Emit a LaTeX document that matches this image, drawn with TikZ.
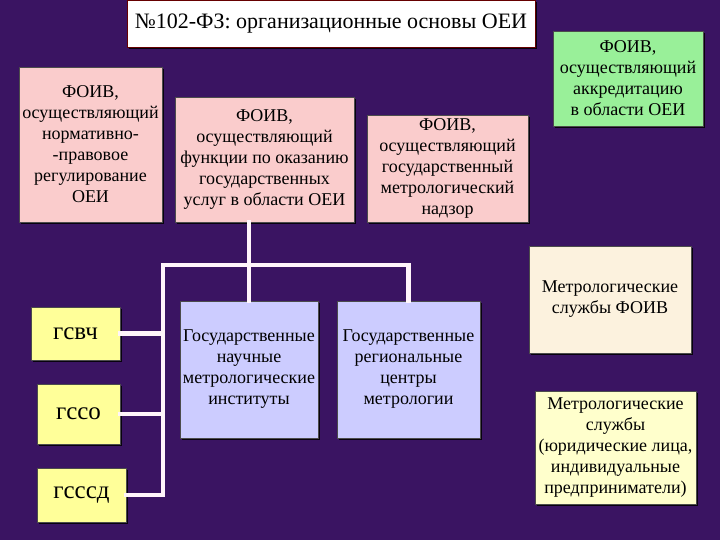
\documentclass[tikz,border=0pt]{standalone}
\usepackage{fontspec}
\setmainfont{Liberation Serif}
\usetikzlibrary{shadows}
\definecolor{bgpurple}{RGB}{58,20,98}
\definecolor{pinkbox}{RGB}{250,204,204}
\definecolor{greenbox}{RGB}{153,240,153}
\definecolor{creambox}{RGB}{252,242,222}
\definecolor{paleyellow}{RGB}{255,255,204}
\definecolor{yellowbox}{RGB}{255,255,153}
\definecolor{lavbox}{RGB}{204,204,255}
\definecolor{wire}{RGB}{255,245,250}
\begin{document}
\begin{tikzpicture}[x=1pt,y=-1pt,
  box/.style={draw=black!70,line width=0.6pt,align=center,inner sep=0.5pt,
    font=\fontsize{18}{21}\selectfont,
    drop shadow={shadow xshift=2pt,shadow yshift=-2pt,fill=black,opacity=.85}},
  sbox/.style={box,fill=yellowbox,font=\fontsize{25}{28}\selectfont},
  wirebus/.style={wire,line width=4.5pt,line cap=rect}]
  \fill[bgpurple] (0,0) rectangle (720,540);
  \useasboundingbox (0,0) rectangle (720,540);

  % title
  \node[box,fill=white,draw=red!40!black,minimum width=408pt,minimum height=47pt,
    font=\fontsize{22}{24}\selectfont] (title) at (331,23.5) {№102-ФЗ: организационные основы ОЕИ};

  % upper row
  \node[box,fill=pinkbox,minimum width=143pt,minimum height=155pt] (normreg) at (90.5,144.5)
    {ФОИВ,\\осуществляющий\\нормативно-\\-правовое\\регулирование\\ОЕИ};
  \node[box,fill=pinkbox,minimum width=179pt,minimum height=125pt] (gosusl) at (264.5,159.5)
    {ФОИВ,\\осуществляющий\\функции по оказанию\\государственных\\услуг в области ОЕИ};
  \node[box,fill=pinkbox,minimum width=161pt,minimum height=107pt] (nadzor) at (447.5,168.5)
    {ФОИВ,\\осуществляющий\\государственный\\метрологический\\надзор};
  \node[box,fill=greenbox,minimum width=150pt,minimum height=95pt] (akkred) at (628,78.5)
    {ФОИВ,\\осуществляющий\\аккредитацию\\в области ОЕИ};

  % right column
  \node[box,fill=creambox,minimum width=162pt,minimum height=107pt] (msfoiv) at (610,299.5)
    {Метрологические\\службы ФОИВ};
  \node[box,fill=paleyellow,minimum width=161pt,minimum height=113pt] (msjur) at (615.5,447.5)
    {Метрологические\\службы\\(юридические лица,\\индивидуальные\\предприниматели)};

  % institutes and centres
  \node[box,fill=lavbox,minimum width=138pt,minimum height=137pt] (gnmi) at (249,369.5)
    {Государственные\\научные\\метрологические\\институты};
  \node[box,fill=lavbox,minimum width=143pt,minimum height=137pt] (grcm) at (408.5,369.5)
    {Государственные\\региональные\\центры\\метрологии};

  % services
  \node[sbox,minimum width=89pt,minimum height=53pt] (gsvch) at (75.5,333.5) {гсвч};
  \node[sbox,minimum width=83pt,minimum height=60pt] (gsso) at (78.5,414) {гссо};
  \node[sbox,minimum width=89pt,minimum height=54pt] (gsssd) at (81.5,495) {гсссд};

  % connectors
  \coordinate (bus) at (163,265);
  \draw[wirebus] (gnmi.north) -- (gnmi.north |- gosusl.south);
  \draw[wirebus] (grcm.north) |- (bus) -- (bus |- gsssd.east);
  \foreach \s in {gsvch,gsso,gsssd}
    \draw[wirebus] (\s.east) -- (\s.east -| bus);
\end{tikzpicture}
\end{document}
